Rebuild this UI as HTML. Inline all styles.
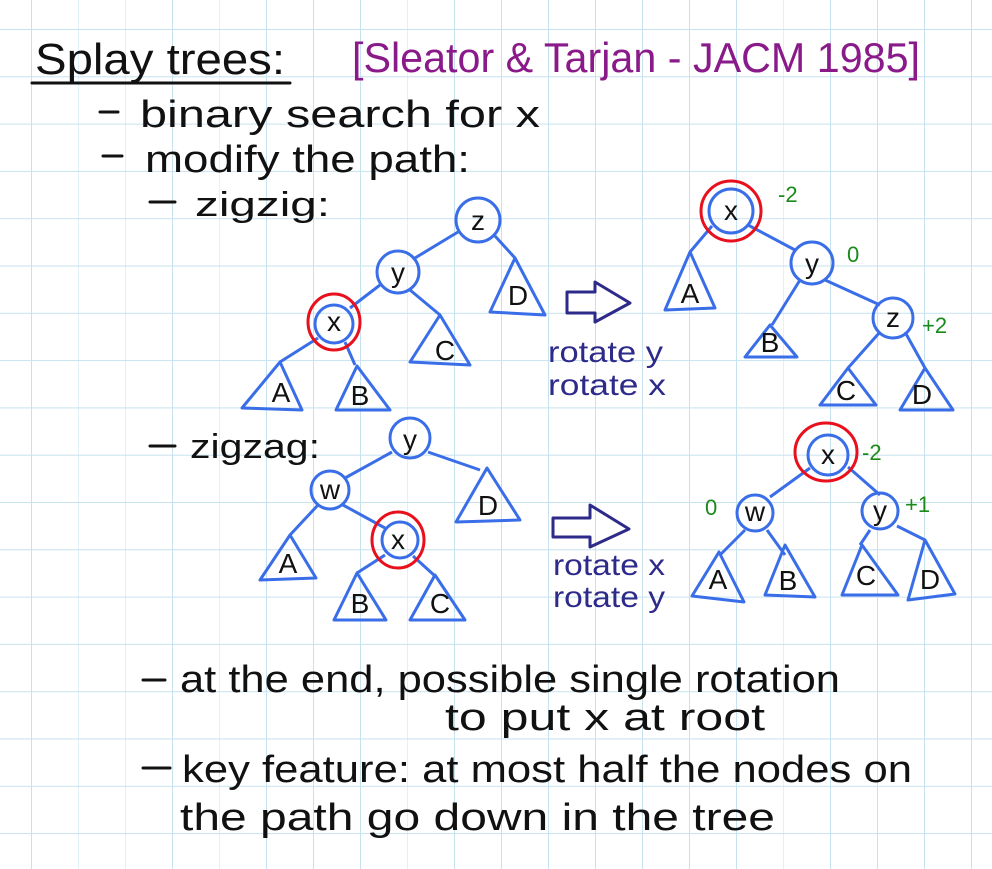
<!DOCTYPE html>
<html><head><meta charset="utf-8"><style>
html,body{margin:0;padding:0;background:#fff}
svg{display:block}
text{font-family:"Liberation Sans",sans-serif}
</style></head><body>
<svg width="992" height="869" viewBox="0 0 992 869" xmlns="http://www.w3.org/2000/svg">
<defs>
<pattern id="g" x="31" y="29" width="47" height="47.3" patternUnits="userSpaceOnUse">
<path d="M0 0H47M0 0V47.3" stroke="#c6e2ef" stroke-width="2" fill="none"/>
</pattern>
</defs>
<rect width="992" height="869" fill="#fff"/>
<rect width="992" height="869" fill="url(#g)"/>

<g fill="#111" font-size="44">
<text x="35" y="74" textLength="250" lengthAdjust="spacingAndGlyphs">Splay trees:</text>
<text x="140" y="127" font-size="38" textLength="400" lengthAdjust="spacingAndGlyphs">binary search for x</text>
<text x="145" y="172" font-size="38" textLength="325" lengthAdjust="spacingAndGlyphs">modify the path:</text>
<text x="195" y="216" font-size="34" textLength="135" lengthAdjust="spacingAndGlyphs">zigzig:</text>
<text x="190" y="458" font-size="34" textLength="130" lengthAdjust="spacingAndGlyphs">zigzag:</text>
<text x="180" y="692" font-size="38" textLength="660" lengthAdjust="spacingAndGlyphs">at the end, possible single rotation</text>
<text x="445" y="730" font-size="38" textLength="320" lengthAdjust="spacingAndGlyphs">to put x at root</text>
<text x="182" y="782" font-size="38" textLength="730" lengthAdjust="spacingAndGlyphs">key feature: at most half the nodes on</text>
<text x="180" y="830" font-size="38" textLength="595" lengthAdjust="spacingAndGlyphs">the path go down in the tree</text>
</g>
<g stroke="#111" stroke-width="3" stroke-linecap="round">
<line x1="32" y1="83" x2="290" y2="83"/>
<line x1="100" y1="112" x2="118" y2="112"/>
<line x1="103" y1="156" x2="122" y2="156"/>
<line x1="150" y1="202" x2="175" y2="202"/>
<line x1="150" y1="446" x2="175" y2="446"/>
<line x1="143" y1="680" x2="165" y2="680"/>
<line x1="143" y1="768" x2="170" y2="768"/>
</g>
<text x="352" y="72" font-size="42" fill="#8a1a8a" textLength="568" lengthAdjust="spacingAndGlyphs">[Sleator &amp; Tarjan - JACM 1985]</text>

<g fill="none" stroke="#3a6ee8" stroke-width="3" stroke-linejoin="round">
<!-- tree 1 left -->
<line x1="458" y1="232" x2="415" y2="258"/><line x1="495" y1="236" x2="515" y2="258"/>
<line x1="380" y1="285" x2="350" y2="308"/><line x1="410" y1="290" x2="440" y2="315"/>
<line x1="318" y1="338" x2="280" y2="362"/><line x1="345" y1="342" x2="355" y2="365"/>
<circle cx="478" cy="220" r="22"/><circle cx="398" cy="272" r="21"/><circle cx="334" cy="324" r="19"/>
<path d="M515 258L490 312L545 315Z"/><path d="M440 315L410 362L470 365Z"/>
<path d="M280 362L242 408L302 410Z"/><path d="M357 366L336 410L390 410Z"/>
<!-- tree 1 right -->
<line x1="712" y1="226" x2="690" y2="252"/><line x1="748" y1="225" x2="795" y2="250"/>
<line x1="800" y1="280" x2="772" y2="325"/><line x1="825" y1="280" x2="880" y2="305"/>
<line x1="880" y1="332" x2="848" y2="368"/><line x1="905" y1="332" x2="925" y2="368"/>
<circle cx="731" cy="211" r="22"/><circle cx="812" cy="263" r="21"/><circle cx="893" cy="318" r="20"/>
<path d="M690 252L665 310L715 308Z"/><path d="M770 325L745 357L797 357Z"/>
<path d="M848 368L820 405L876 405Z"/><path d="M925 368L900 410L953 410Z"/>
<!-- tree 2 left -->
<line x1="392" y1="452" x2="345" y2="478"/><line x1="428" y1="452" x2="480" y2="470"/>
<line x1="318" y1="505" x2="290" y2="535"/><line x1="343" y1="505" x2="385" y2="528"/>
<line x1="385" y1="555" x2="357" y2="573"/><line x1="413" y1="556" x2="435" y2="576"/>
<circle cx="410" cy="438" r="20"/><circle cx="330" cy="490" r="19"/><circle cx="400" cy="540" r="18"/>
<path d="M487 468L456 522L520 520Z"/><path d="M290 535L260 580L316 578Z"/>
<path d="M357 573L334 620L386 620Z"/><path d="M435 575L410 620L465 620Z"/>
<!-- tree 2 right -->
<line x1="810" y1="468" x2="770" y2="497"/><line x1="848" y1="467" x2="880" y2="495"/>
<line x1="745" y1="530" x2="720" y2="555"/><line x1="767" y1="530" x2="785" y2="555"/>
<line x1="870" y1="530" x2="860" y2="545"/><line x1="897" y1="526" x2="925" y2="540"/>
<circle cx="828" cy="455" r="20"/><circle cx="755" cy="513" r="18"/><circle cx="880" cy="511" r="18"/>
<path d="M719 552L692 596L744 602Z"/><path d="M785 545L765 595L815 597Z"/>
<path d="M862 545L842 595L898 595Z"/><path d="M925 540L908 600L955 594Z"/>
</g>
<g fill="none" stroke="#e8101c" stroke-width="3">
<ellipse cx="334" cy="322" rx="26" ry="28"/>
<ellipse cx="731" cy="211" rx="30" ry="30"/>
<ellipse cx="398" cy="540" rx="26" ry="28"/>
<ellipse cx="826" cy="452" rx="31" ry="29"/>
</g>
<g fill="#111" font-size="28" text-anchor="middle">
<text x="478" y="230">z</text><text x="398" y="282">y</text><text x="334" y="331">x</text>
<text x="518" y="305">D</text><text x="445" y="360">C</text><text x="281" y="402">A</text><text x="360" y="405">B</text>
<text x="731" y="220">x</text><text x="812" y="273">y</text><text x="893" y="327">z</text>
<text x="690" y="303">A</text><text x="770" y="352">B</text><text x="846" y="400">C</text><text x="922" y="404">D</text>
<text x="410" y="449">y</text><text x="330" y="499">w</text><text x="398" y="549">x</text>
<text x="488" y="515">D</text><text x="288" y="573">A</text><text x="360" y="613">B</text><text x="440" y="613">C</text>
<text x="828" y="464">x</text><text x="755" y="521">w</text><text x="880" y="520">y</text>
<text x="718" y="589">A</text><text x="788" y="590">B</text><text x="866" y="585">C</text><text x="930" y="589">D</text>
</g>
<g fill="#1a8a1a" font-size="22">
<text x="778" y="202">-2</text><text x="847" y="262">0</text><text x="922" y="333">+2</text>
<text x="862" y="460">-2</text><text x="705" y="515">0</text><text x="905" y="512">+1</text>
</g>
<g fill="none" stroke="#2e2a8a" stroke-width="3" stroke-linejoin="round">
<path d="M567 292H595V282L630 303L595 322V313H567Z"/>
<path d="M553 518H590V505L629 529L590 547V537H553Z"/>
</g>
<g fill="#2e2a8a" font-size="30">
<text x="548" y="362" textLength="115" lengthAdjust="spacingAndGlyphs">rotate y</text>
<text x="548" y="395" textLength="118" lengthAdjust="spacingAndGlyphs">rotate x</text>
<text x="553" y="575" textLength="112" lengthAdjust="spacingAndGlyphs">rotate x</text>
<text x="553" y="607" textLength="112" lengthAdjust="spacingAndGlyphs">rotate y</text>
</g>
</svg>
</body></html>
